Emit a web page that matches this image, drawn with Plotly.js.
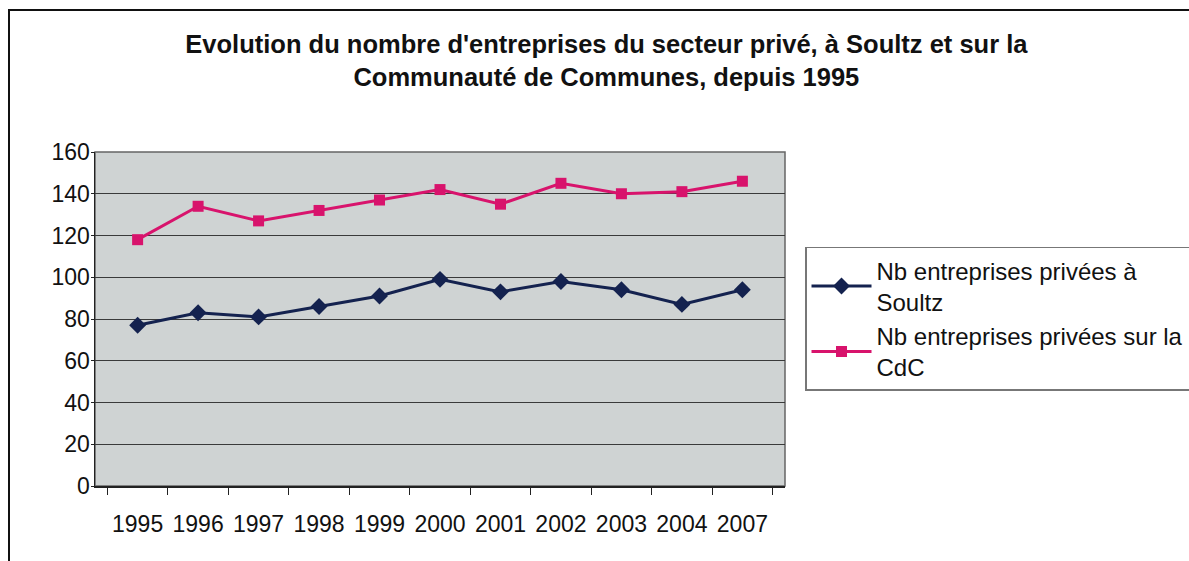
<!DOCTYPE html>
<html>
<head>
<meta charset="utf-8">
<script src="https://cdn.plot.ly/plotly-3.0.1.min.js"></script>
<style>
html,body{margin:0;padding:0;background:#fff;}
#wrap{position:relative;width:1189px;height:561px;overflow:hidden;}
#chart{width:1189px;height:561px;}
#frame{position:absolute;left:8px;top:9px;width:1200px;height:560px;border-top:2px solid #111;border-left:2px solid #111;pointer-events:none;}
</style>
</head>
<body>
<div id="wrap">
<div id="chart"></div>
<div id="frame"></div>
</div>
<script>
const years = ["1995","1996","1997","1998","1999","2000","2001","2002","2003","2004","2007"];
const soultz = [77, 83, 81, 86, 91, 99, 93, 98, 94, 87, 94];
const cdc = [118, 134, 127, 132, 137, 142, 135, 145, 140, 141, 146];
const nameSoultz = "Nb entreprises privées à<br>Soultz";
const nameCdc = "Nb entreprises privées sur la<br>CdC";
const titleText = "Evolution du nombre d'entreprises du secteur privé, à Soultz et sur la<br>Communauté de Communes, depuis 1995";

const font = "Liberation Sans, Arial, sans-serif";

const traces = [
  {x: years, y: soultz, name: nameSoultz, type: "scatter", mode: "lines+markers",
   line: {color: "#14224f", width: 3}, marker: {symbol: "diamond", size: 13, color: "#14224f"}},
  {x: years, y: cdc, name: nameCdc, type: "scatter", mode: "lines+markers",
   line: {color: "#d8136c", width: 3}, marker: {symbol: "square", size: 11, color: "#d8136c"}}
];

const layout = {
  width: 1189, height: 561,
  margin: {l: 95, r: 404, t: 152, b: 75, autoexpand: false},
  paper_bgcolor: "#ffffff",
  plot_bgcolor: "#cfd3d3",
  showlegend: true,
  title: {text: titleText, x: 0.51, xanchor: "center", y: 0.905, yanchor: "top",
          font: {family: font, size: 25.5, color: "#111", weight: "bold"}},
  xaxis: {type: "category", tickson: "boundaries", ticks: "outside", ticklen: 7, tickcolor: "#222",
          showline: true, linecolor: "#222", linewidth: 1.5, showgrid: false, tickangle: 0,
          tickfont: {family: font, size: 23, color: "#111"}, automargin: false, ticklabelstandoff: 17},
  yaxis: {range: [0, 160], dtick: 20, ticks: "outside", ticklen: 3, tickcolor: "#222",
          showline: true, linecolor: "#222", linewidth: 1.5, gridcolor: "#3a3a3a", gridwidth: 1,
          tickfont: {family: font, size: 23, color: "#111"}, automargin: false, zeroline: false,
          ticklabelstandoff: -4},
  legend: {x: 1.029, y: 0.716, xanchor: "left", yanchor: "top", bgcolor: "#ffffff",
           bordercolor: "#777", borderwidth: 1.5, font: {family: font, size: 24, color: "#111"},
           tracegroupgap: 10, itemwidth: 60},
  shapes: [
    {type: "rect", xref: "paper", yref: "paper", x0: 0, x1: 1, y0: 0, y1: 1,
     line: {color: "#666", width: 1.5}, layer: "below"}
  ]
};

Plotly.newPlot("chart", traces, layout, {displayModeBar: false, staticPlot: true});
</script>
</body>
</html>
